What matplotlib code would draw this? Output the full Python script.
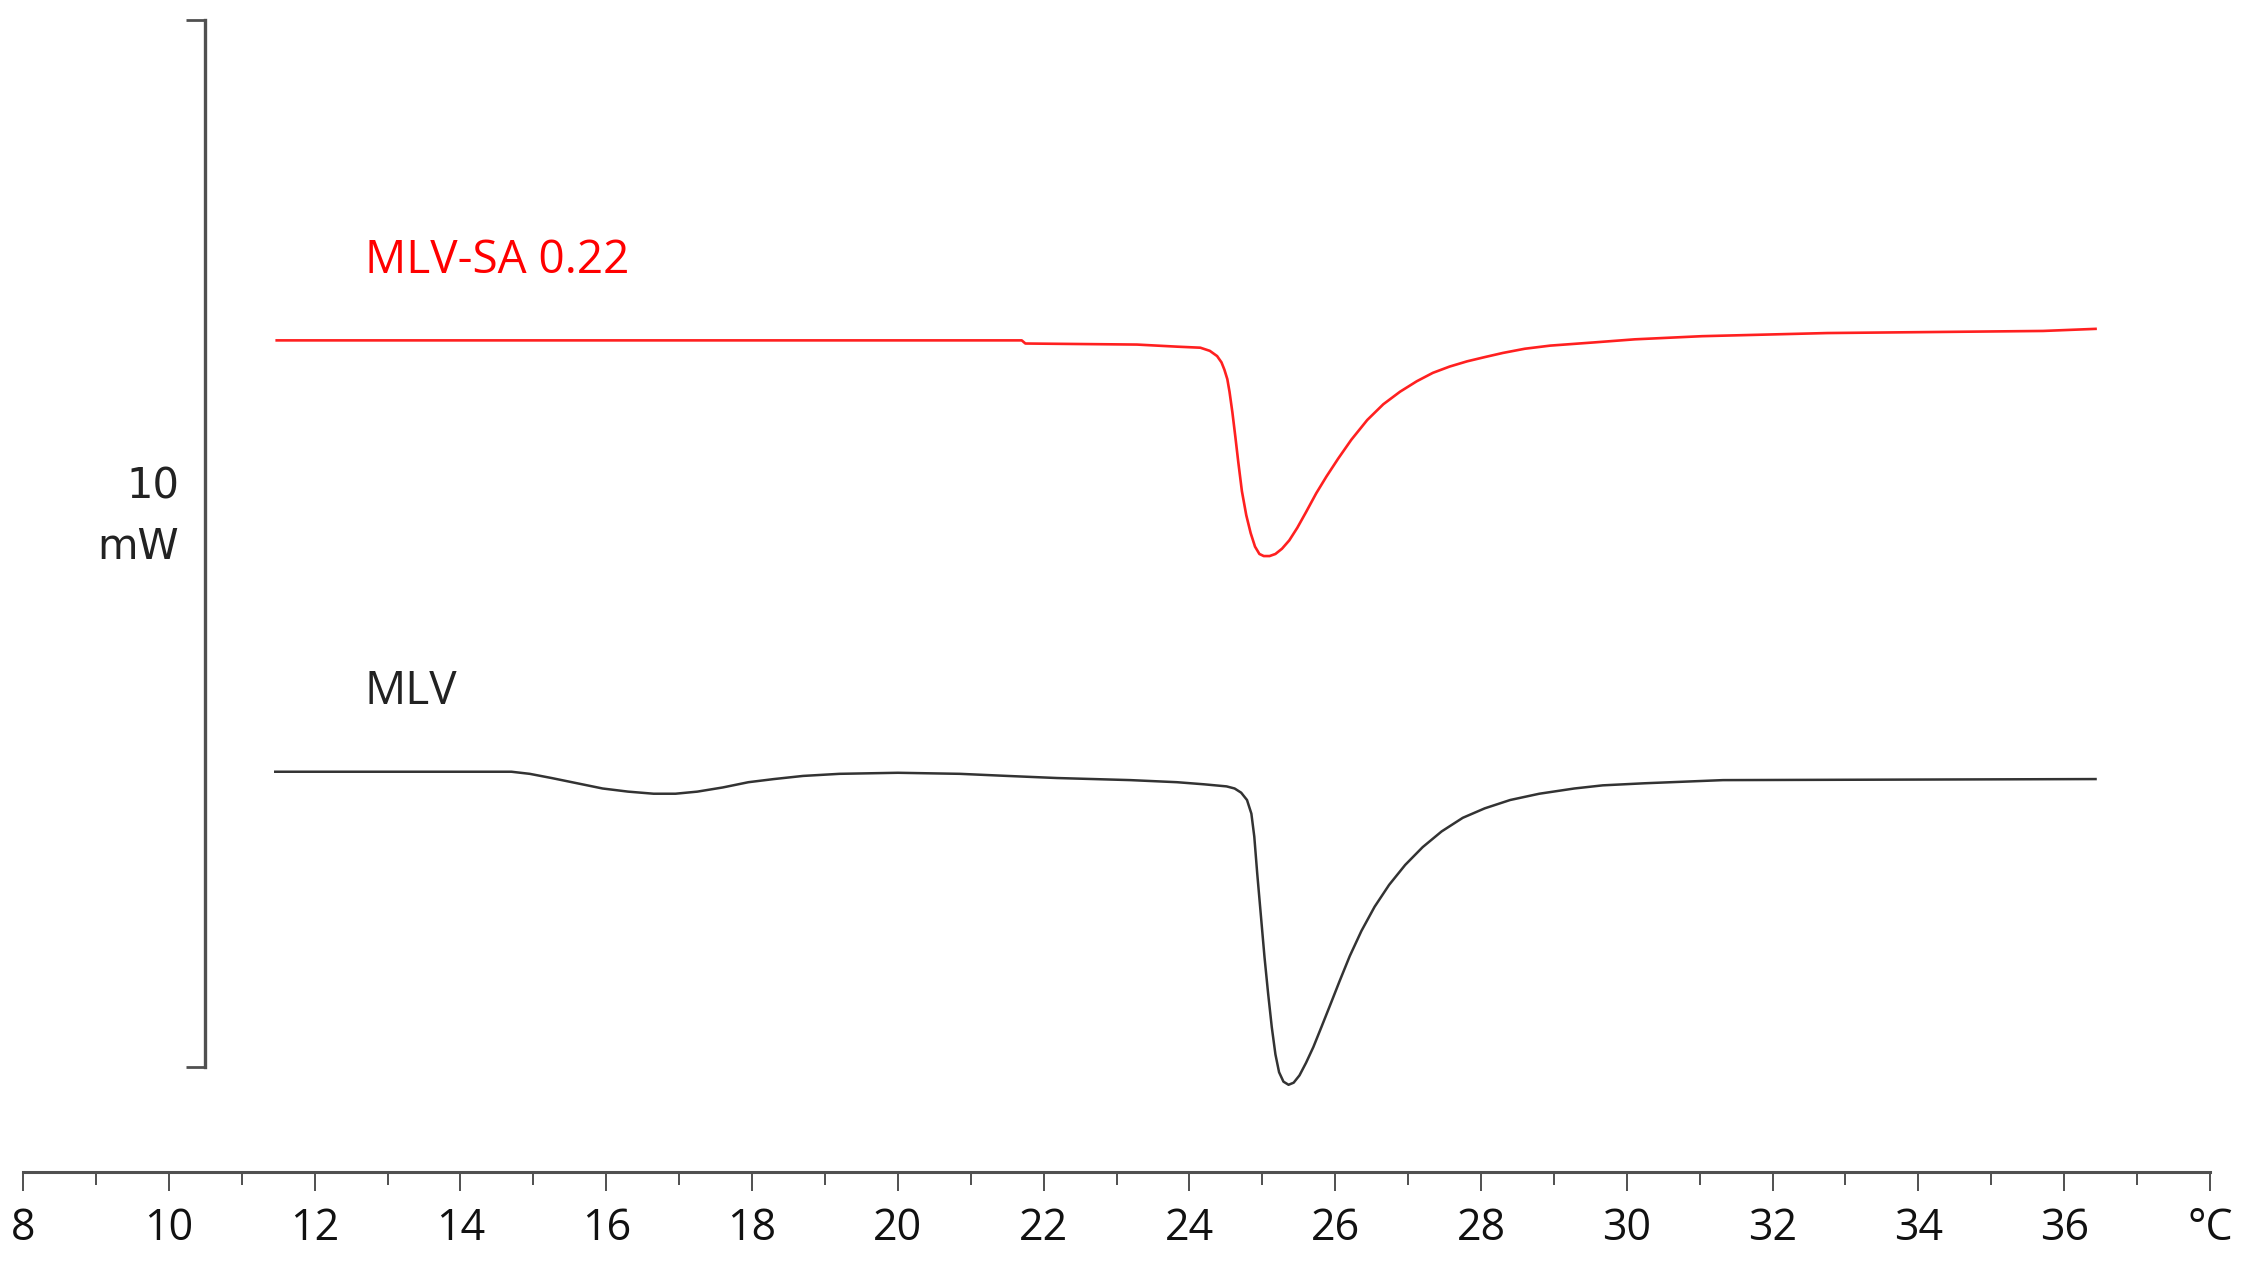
import numpy as np
import matplotlib.pyplot as plt
from matplotlib.ticker import FixedLocator, MultipleLocator

# DSC thermograms (temperature in C, heat flow in mW)
temp_sa = [11.48, 17.00, 21.70, 21.75, 23.28, 23.83, 24.15, 24.28, 24.38, 24.44,
           24.48, 24.52, 24.55, 24.59, 24.63, 24.67, 24.72, 24.78, 24.84, 24.90,
           24.96, 25.02, 25.10, 25.18, 25.27, 25.37, 25.48, 25.60, 25.74, 25.88,
           26.04, 26.22, 26.44, 26.66, 26.89, 27.12, 27.34, 27.57, 27.81, 28.05,
           28.30, 28.60, 28.95, 29.54, 30.11, 31.03, 32.75, 35.71, 36.43]
flow_sa = [6.94, 6.94, 6.94, 6.91, 6.90, 6.88, 6.87, 6.84, 6.79, 6.73,
           6.66, 6.57, 6.45, 6.25, 6.02, 5.78, 5.50, 5.27, 5.10, 4.97,
           4.90, 4.88, 4.88, 4.90, 4.95, 5.03, 5.15, 5.30, 5.48, 5.64,
           5.81, 5.99, 6.18, 6.33, 6.45, 6.55, 6.63, 6.69, 6.74, 6.78,
           6.82, 6.86, 6.89, 6.92, 6.95, 6.98, 7.01, 7.03, 7.05]

temp_mlv = [11.46, 14.70, 14.95, 15.25, 15.60, 15.95, 16.30, 16.65, 16.95, 17.25,
            17.60, 17.95, 18.30, 18.70, 19.20, 20.00, 20.85, 21.50, 22.18, 23.19,
            23.83, 24.20, 24.51,
            24.62, 24.71, 24.79, 24.85, 24.89, 24.93, 24.98, 25.03, 25.08, 25.13,
            25.18, 25.23, 25.29, 25.36, 25.43, 25.51, 25.60, 25.70, 25.81, 25.93,
            26.06, 26.20, 26.36, 26.54, 26.74, 26.96, 27.20, 27.46, 27.75, 28.05,
            28.40, 28.80, 29.28, 29.67, 30.25, 31.32, 36.43]
flow_mlv = [2.82, 2.82, 2.80, 2.76, 2.71, 2.66, 2.63, 2.61, 2.61, 2.63,
            2.67, 2.72, 2.75, 2.78, 2.80, 2.81, 2.80, 2.78, 2.76, 2.74,
            2.72, 2.70, 2.68,
            2.66, 2.62, 2.55, 2.42, 2.20, 1.85, 1.45, 1.05, 0.70, 0.38,
            0.12, -0.05, -0.14, -0.17, -0.15, -0.08, 0.04, 0.19, 0.38, 0.59,
            0.82, 1.06, 1.30, 1.53, 1.74, 1.93, 2.10, 2.25, 2.38, 2.47,
            2.55, 2.61, 2.66, 2.69, 2.71, 2.74, 2.75]

major_ticks = list(range(8, 40, 2))
tick_labels = [str(t) for t in major_ticks[:-1]] + ['\u00b0C']

axis_grey = '#505050'

fig = plt.figure(figsize=(22.46, 12.85), dpi=100)
ax = fig.add_axes([0, 113 / 1285, 1, 1172 / 1285])
ax.set_xlim(7.684, 38.494)
ax.set_ylim(-1.003, 10.191)

ax.plot(temp_sa, flow_sa, color='#ff2020', lw=1.9, solid_joinstyle='round')
ax.plot(temp_mlv, flow_mlv, color='#333333', lw=1.8, solid_joinstyle='round')

# temperature axis along the bottom
for side in ['top', 'right']:
    ax.spines[side].set_visible(False)
ax.spines['bottom'].set_bounds(8, 38)
ax.spines['bottom'].set_color(axis_grey)
ax.spines['bottom'].set_linewidth(2.2)
ax.xaxis.set_major_locator(FixedLocator(major_ticks))
ax.xaxis.set_minor_locator(MultipleLocator(1))
ax.set_xticklabels(tick_labels, family='Open Sans', fontsize=31, color='#111111')
ax.tick_params(axis='x', which='major', direction='out', length=14, width=1.4,
               color=axis_grey, pad=11)
ax.tick_params(axis='x', which='minor', direction='out', length=9.5, width=1.4,
               color=axis_grey)

# 10 mW scale bar on the left
ax.spines['left'].set_position(('data', 10.497))
ax.spines['left'].set_bounds(0, 10)
ax.spines['left'].set_color(axis_grey)
ax.spines['left'].set_linewidth(2.4)
ax.set_yticks([0, 10])
ax.set_yticklabels([])
ax.tick_params(axis='y', direction='out', length=13.5, width=2.0, color=axis_grey)

ax.text(10.14, 5.54, '10', ha='right', va='center', fontsize=30,
        family='DejaVu Sans', color='#222222')
ax.text(10.14, 4.97, 'mW', ha='right', va='center', fontsize=30,
        family='DejaVu Sans', color='#222222')

ax.text(12.69, 7.70, 'MLV-SA 0.22', ha='left', va='center', fontsize=33,
        family='Open Sans', color='red')
ax.text(12.69, 3.58, 'MLV', ha='left', va='center', fontsize=33,
        family='Open Sans', color='#222222')

fig.savefig('out.png', dpi=100, facecolor='white')
